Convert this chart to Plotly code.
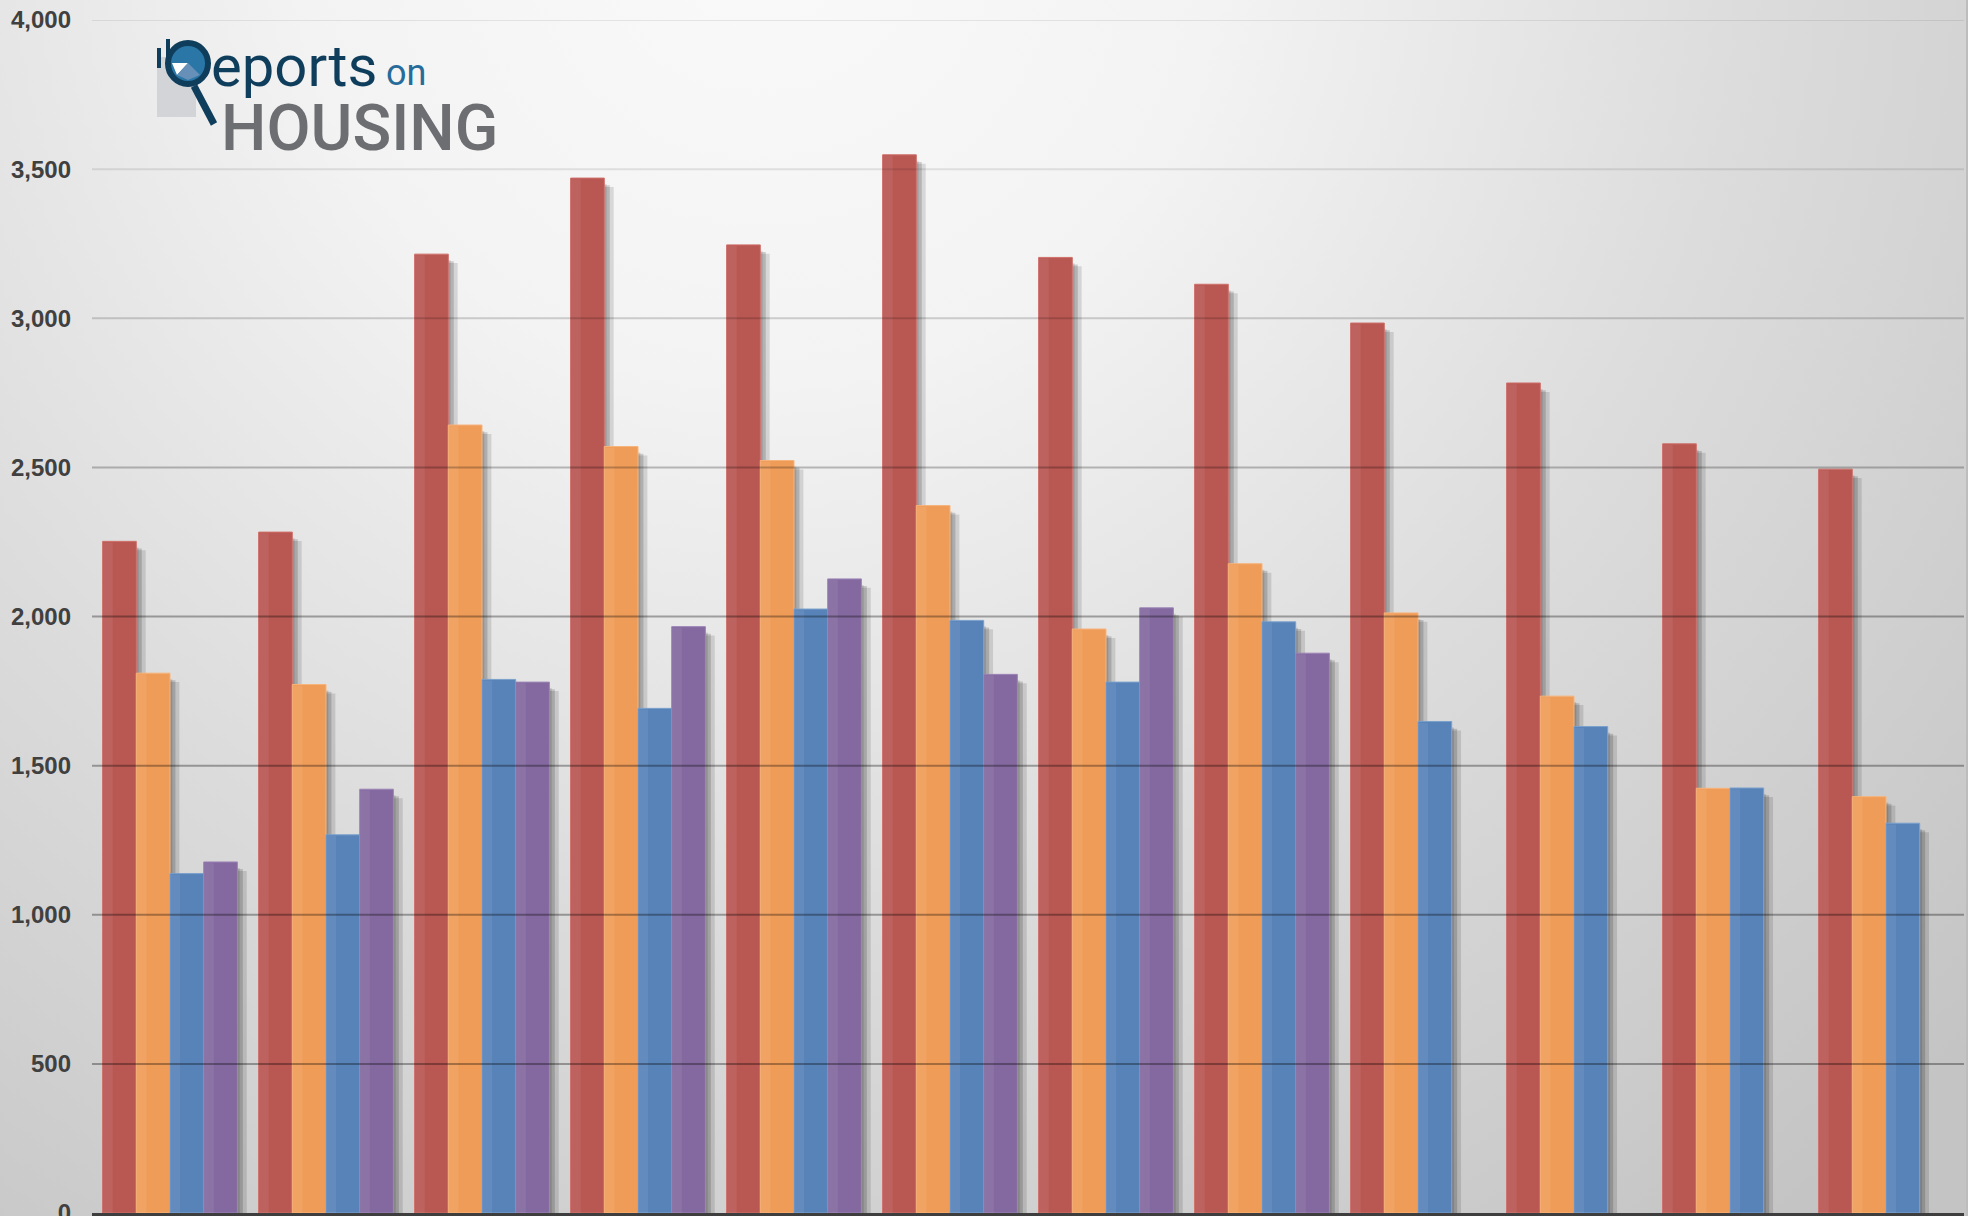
import base64
import plotly.graph_objects as go

# ---------------- data ----------------
categories = ["Jan", "Feb", "Mar", "Apr", "May", "Jun",
              "Jul", "Aug", "Sep", "Oct", "Nov", "Dec"]
series_names = ["Series 1", "Series 2", "Series 3", "Series 4"]
red_vals = [2252, 2283, 3215, 3470, 3246, 3548, 3204, 3114, 2984, 2783, 2579, 2494]
orange_vals = [1810, 1772, 2642, 2570, 2523, 2372, 1958, 2177, 2012, 1733, 1424, 1396]
blue_vals = [1138, 1268, 1789, 1692, 2025, 1987, 1780, 1982, 1648, 1631, 1425, 1307]
purple_vals = [1177, 1421, 1780, 1966, 2126, 1806, 2029, 1877, None, None, None, None]
y_ticks = [0, 500, 1000, 1500, 2000, 2500, 3000, 3500, 4000]

# ---------------- layout geometry ----------------
FW, FH = 1976, 1216
L, R, T, B = 92, 12, 20, 3
PW, PH = FW - L - R, FH - T - B


def px(x):
    return (x - L) / PW


def py(y):
    return 1 - (y - T) / PH


series = [red_vals, orange_vals, blue_vals, purple_vals]
colors = ["#b95752", "#f09c59", "#5883b8", "#8469a0"]
edge_colors = ["#cf706b", "#f6b37a", "#7aa0cc", "#9c85b6"]
bar_w = 0.216
offsets = [-2 * bar_w, -bar_w, 0.0, bar_w]

fig = go.Figure()

# soft drop shadows (drawn first so bars sit on top)
for vals, off in zip(series, offsets):
    fig.add_trace(go.Bar(
        x=categories, y=[None if v is None else v - 30 for v in vals],
        width=0.06, offset=off + bar_w, marker_color="rgba(0,0,0,0.12)",
        marker_line_width=0, hoverinfo="skip", showlegend=False))
    fig.add_trace(go.Bar(
        x=categories, y=[None if v is None else v - 24 for v in vals],
        width=0.035, offset=off + bar_w, marker_color="rgba(0,0,0,0.16)",
        marker_line_width=0, hoverinfo="skip", showlegend=False))
    fig.add_trace(go.Bar(
        x=categories, y=[None if v is None else v - 20 for v in vals],
        width=0.015, offset=off + bar_w, marker_color="rgba(0,0,0,0.12)",
        marker_line_width=0, hoverinfo="skip", showlegend=False))

# main bars
for name, vals, off, col, ecol in zip(series_names, series, offsets, colors, edge_colors):
    fig.add_trace(go.Bar(
        name=name, x=categories, y=vals, width=bar_w, offset=off,
        marker=dict(color=col, line=dict(color=ecol, width=1)),
        showlegend=False))
    # subtle lighter left strip
    fig.add_trace(go.Bar(
        x=categories, y=[None if v is None else v - 4 for v in vals],
        width=bar_w * 0.28, offset=off + 0.004,
        marker_color="rgba(255,255,255,0.07)", marker_line_width=0,
        hoverinfo="skip", showlegend=False))

# ---------------- background gradient ----------------
BGW = 1967
svg = f'''<svg xmlns="http://www.w3.org/2000/svg" width="{BGW}" height="{FH}" viewBox="0 0 {BGW} {FH}" preserveAspectRatio="none">
<defs><radialGradient id="g" gradientUnits="userSpaceOnUse" cx="760" cy="-80" r="1650">
<stop offset="0" stop-color="#fafafa"/><stop offset="0.28" stop-color="#f3f3f3"/>
<stop offset="0.6" stop-color="#dcdcdc"/><stop offset="1" stop-color="#c4c4c4"/></radialGradient></defs>
<rect x="0" y="0" width="{BGW}" height="{FH}" fill="url(#g)"/></svg>'''
svg_uri = "data:image/svg+xml;base64," + base64.b64encode(svg.encode()).decode()

images = [dict(source=svg_uri, xref="paper", yref="paper",
               x=px(0), y=py(0), sizex=BGW / PW, sizey=FH / PH,
               xanchor="left", yanchor="top", sizing="stretch", layer="below")]

shapes = []
# gridlines (drawn above bars, translucent)
for v in y_ticks[1:]:
    a = 0.08 + 0.24 * min(max((3600 - v) / 1600, 0), 1)
    shapes.append(dict(type="line", xref="paper", yref="y", x0=0, x1=px(1964),
                       y0=v, y1=v, line=dict(color=f"rgba(0,0,0,{a:.3f})", width=2),
                       layer="above"))
# right border of chart area
shapes.append(dict(type="line", xref="paper", yref="paper", x0=px(1967), x1=px(1967),
                   y0=py(0), y1=py(FH), line=dict(color="#bdbdbd", width=2), layer="above"))

# ---------------- logo ----------------
NAVY = "#0f3d5c"
shapes += [
    dict(type="rect", xref="paper", yref="paper", x0=px(157), x1=px(196), y0=py(117), y1=py(57),
         fillcolor="#d2d4d7", line_width=0, layer="above"),
    dict(type="rect", xref="paper", yref="paper", x0=px(157), x1=px(161), y0=py(68), y1=py(48),
         fillcolor=NAVY, line_width=0, layer="above"),
    dict(type="rect", xref="paper", yref="paper", x0=px(166), x1=px(170), y0=py(68), y1=py(39),
         fillcolor=NAVY, line_width=0, layer="above"),
    dict(type="circle", xref="paper", yref="paper", x0=px(168), x1=px(208), y0=py(84), y1=py(43),
         fillcolor="#2a77a7", line=dict(color=NAVY, width=6), layer="above"),
    dict(type="path", xref="paper", yref="paper",
         path=f"M {px(188)} {py(63)} L {px(188)} {py(47)} A 1 1 0 0 0 {px(172)} {py(63)} Z",
         fillcolor="#8c8e91", line_width=0, layer="above"),
    dict(type="path", xref="paper", yref="paper",
         path=f"M {px(188)} {py(63)} L {px(172)} {py(63)} L {px(177)} {py(75)} Z",
         fillcolor="#ffffff", line_width=0, layer="above"),
    dict(type="path", xref="paper", yref="paper",
         path=f"M {px(188)} {py(63)} L {px(177)} {py(75)} L {px(188)} {py(80)} L {px(200)} {py(75)} Z",
         fillcolor="#6690b8", line_width=0, layer="above"),
    dict(type="line", xref="paper", yref="paper", x0=px(194), y0=py(86), x1=px(214), y1=py(124),
         line=dict(color=NAVY, width=7), layer="above"),
]

annotations = [
    dict(text="eports", xref="paper", yref="paper", x=px(209), y=py(66),
         xanchor="left", yanchor="middle", showarrow=False,
         font=dict(family="Roboto", size=58, color=NAVY)),
    dict(text="on", xref="paper", yref="paper", x=px(384), y=py(73),
         xanchor="left", yanchor="middle", showarrow=False,
         font=dict(family="Roboto", size=36, color="#276b9b")),
    dict(text="HOUSING", xref="paper", yref="paper", x=px(219), y=py(129),
         xanchor="left", yanchor="middle", showarrow=False,
         font=dict(family="Roboto", size=64, color="#6d6e72", weight=500)),
]

fig.update_layout(
    width=FW, height=FH,
    margin=dict(l=L, r=R, t=T, b=B, pad=0, autoexpand=False),
    paper_bgcolor="#ffffff", plot_bgcolor="rgba(0,0,0,0)",
    barmode="overlay", showlegend=False,
    images=images, shapes=shapes, annotations=annotations,
    xaxis=dict(type="category", categoryorder="array", categoryarray=categories,
               range=[-0.5, len(categories) - 0.5], showticklabels=False,
               showgrid=False, zeroline=False, showline=True, linecolor="#3e3e3e",
               linewidth=5, ticks="", automargin=False),
    yaxis=dict(range=[0, 4000], tickvals=y_ticks, ticktext=[f"{v:,}" for v in y_ticks],
               showgrid=False, zeroline=False, showline=False, ticks="",
               ticklabelstandoff=20, ticklabeloverflow="allow", automargin=False,
               tickfont=dict(family="Liberation Sans", size=24, color="#404040", weight="bold")),
)

fig.write_html("out.html", config={"displayModeBar": False},
               post_script="document.body.style.margin='0';document.body.style.overflow='hidden';")
